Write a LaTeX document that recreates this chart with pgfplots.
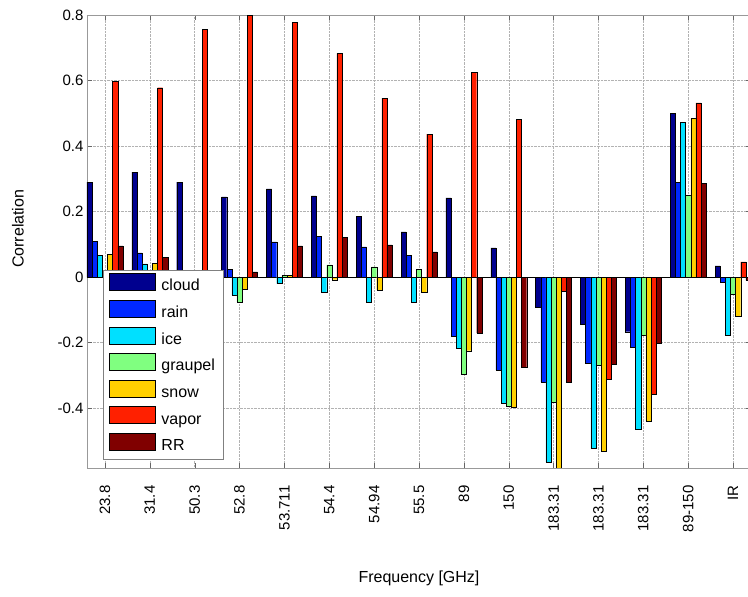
\documentclass[border=0pt]{standalone}
\usepackage{pgfplots}
\pgfplotsset{compat=1.18}
\usepackage{pgfplotstable}
\usepackage{fontspec}
\setmainfont{Liberation Sans}

\definecolor{cCloud}{RGB}{0,0,143}
\definecolor{cRain}{RGB}{0,40,255}
\definecolor{cIce}{RGB}{0,224,255}
\definecolor{cGraupel}{RGB}{128,255,128}
\definecolor{cSnow}{RGB}{255,208,0}
\definecolor{cVapor}{RGB}{255,32,0}
\definecolor{cRR}{RGB}{128,0,0}

% correlation per channel (0..14), one column per variable
\pgfplotstableread{
x  cloud  rain   ice    graupel snow   vapor  RR
0  0.290  0.110  0.067  0.005   0.070  0.598  0.095
1  0.320  0.074  0.040  0.010   0.042  0.578  0.060
2  0.290  0.005  0.002  0.002   0.002  0.757  0.003
3  0.245  0.024  -0.055 -0.076  -0.037 0.800  0.016
4  0.269  0.107  -0.020 0.005   0.005  0.778  0.095
5  0.248  0.125  -0.045 0.037   -0.008 0.683  0.122
6  0.186  0.092  -0.077 0.031   -0.040 0.546  0.098
7  0.138  0.067  -0.077 0.023   -0.045 0.436  0.077
8  0.242  -0.180 -0.216 -0.296  -0.225 0.625  -0.171
9  0.089  -0.284 -0.385 -0.394  -0.397 0.481  -0.275
10 -0.093 -0.320 -0.565 -0.382  -0.590 -0.042 -0.320
11 -0.144 -0.263 -0.523 -0.269  -0.531 -0.311 -0.266
12 -0.167 -0.214 -0.464 -0.177  -0.440 -0.357 -0.202
13 0.500  0.290  0.473  0.250   0.485  0.532  0.287
14 0.034  -0.015 -0.177 -0.052  -0.119 0.046  -0.010
}\corrdata

\begin{document}
\begin{tikzpicture}
\begin{axis}[
  name=ax,
  scale only axis,
  width=664pt, height=453pt,
  ybar=0pt, bar width=0.1143,
  xmin=-0.4, xmax=14.4,
  ymin=-0.583, ymax=0.8,
  xtick={0,...,14},
  xticklabels={23.8,31.4,50.3,52.8,53.711,54.4,54.94,55.5,89,150,183.31,183.31,183.31,89-150,IR},
  ytick={-0.4,-0.2,0,0.2,0.4,0.6,0.8},
  yticklabels={-0.4,-0.2,0,0.2,0.4,0.6,0.8},
  xticklabel style={rotate=90, anchor=east, font=\fontsize{15}{18}\selectfont},
  xticklabel shift=14pt,
  yticklabel style={font=\fontsize{15}{18}\selectfont},
  tick align=inside,
  major tick length=5pt,
  tick style={gray!80!black},
  axis line style={gray!80, line width=0.8pt},
  grid=major,
  major grid style={densely dotted, gray!60},
  extra y ticks={0},
  extra y tick labels={},
  extra y tick style={grid=major, major grid style={solid, black, line width=0.6pt}, major tick length=0pt},
  xlabel={Frequency [GHz]},
  ylabel={Correlation},
  label style={font=\fontsize{16}{19}\selectfont},
  xlabel style={at={(axis description cs:0.5,-0.243)}, anchor=center},
  ylabel style={at={(axis description cs:-0.104,0.528)}, anchor=center},
  legend cell align=left,
  legend image code/.code={\draw[#1] (0pt,-4pt) rectangle (46pt,13pt);},
  legend style={at={(axis description cs:0.0241,0.437)}, anchor=north west,
    draw=gray, fill=white, inner xsep=6pt, inner ysep=3pt,
    font=\fontsize{16}{19}\selectfont, row sep=4pt,
    /tikz/every odd column/.append style={column sep=4pt},
    nodes={inner xsep=2pt, inner ysep=1pt, text height=13pt, text depth=4pt}},
]
\addplot[fill=cCloud, draw=black, line width=0.3pt] table[x=x, y=cloud] {\corrdata};
\addplot[fill=cRain, draw=black, line width=0.3pt] table[x=x, y=rain] {\corrdata};
\addplot[fill=cIce, draw=black, line width=0.3pt] table[x=x, y=ice] {\corrdata};
\addplot[fill=cGraupel, draw=black, line width=0.3pt] table[x=x, y=graupel] {\corrdata};
\addplot[fill=cSnow, draw=black, line width=0.3pt] table[x=x, y=snow] {\corrdata};
\addplot[fill=cVapor, draw=black, line width=0.3pt] table[x=x, y=vapor] {\corrdata};
\addplot[fill=cRR, draw=black, line width=0.3pt] table[x=x, y=RR] {\corrdata};
\legend{cloud,rain,ice,graupel,snow,vapor,RR}
\end{axis}
\pgfresetboundingbox
\path[use as bounding box] ([shift={(-87pt,-129pt)}]ax.south west) rectangle ([shift={(661pt,468pt)}]ax.south west);
\end{tikzpicture}
\end{document}
